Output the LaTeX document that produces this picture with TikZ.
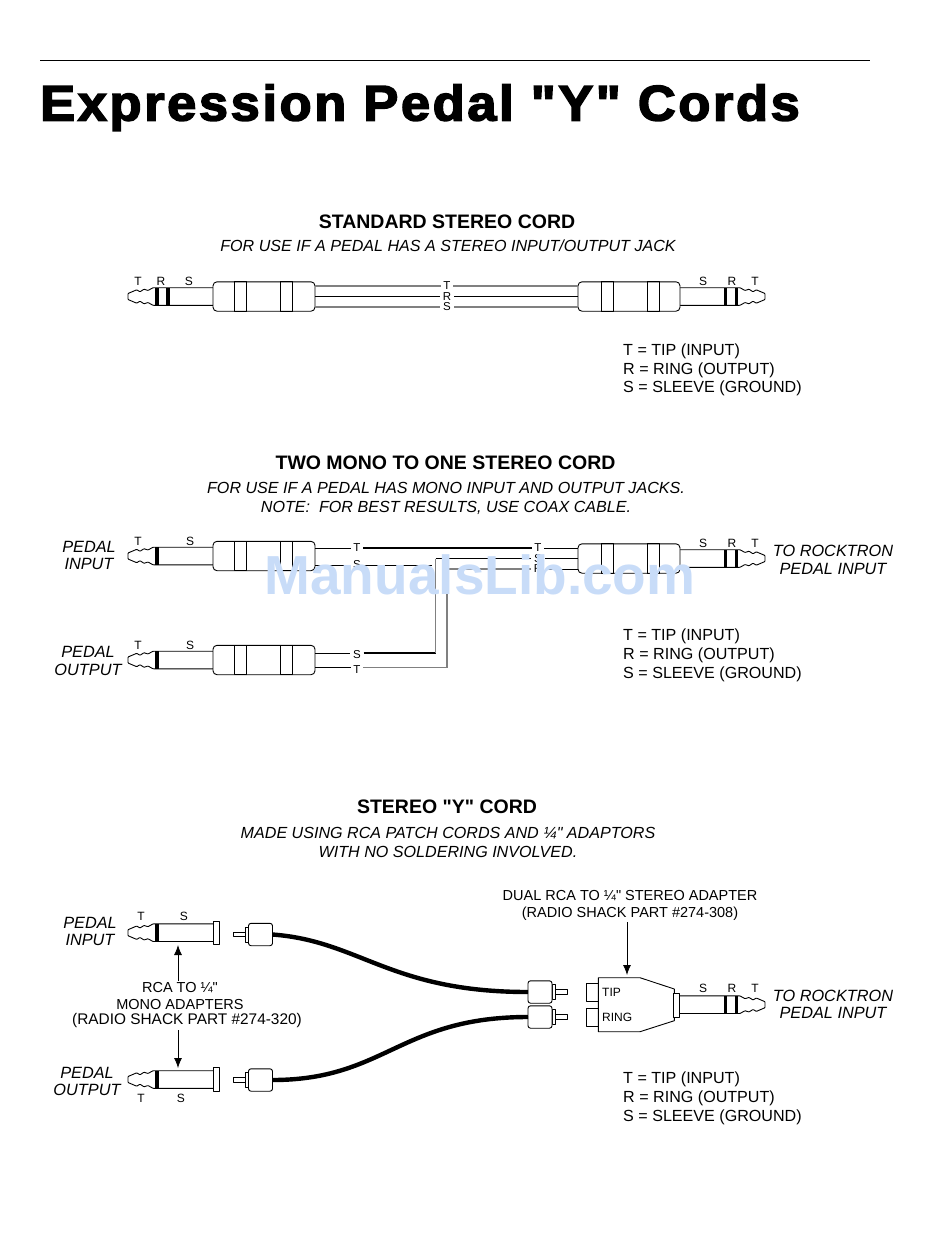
\documentclass[tikz,border=0pt]{standalone}
\usepackage{fontspec}
\usepackage{graphicx}
\setmainfont{Liberation Sans}[Ligatures=TeXOff]
\newfontfamily\titlefont[FakeBold=3,LetterSpace=5]{Liberation Sans Bold}
\usetikzlibrary{arrows.meta}

\definecolor{markblue}{RGB}{200,220,248}

\tikzset{
    plugline/.style={line width=0.9pt, line join=round},
    greywire/.style={line width=1.9pt, gray},
    blackwire/.style={line width=1.5pt, black},
    thinwire/.style={line width=0.9pt, black},
    rcacable/.style={line width=4.4pt, black},
    pointer/.style={line width=0.8pt, shorten <=2pt, -{Latex[length=10pt,width=8pt]}},
    pinlabel/.style={font=\fontsize{12}{12}\selectfont, inner sep=0pt},
    wirelabel/.style={pinlabel, font=\fontsize{11.5}{12}\selectfont, fill=white, inner xsep=2.5pt},
    headline/.style={font=\bfseries\fontsize{19.5}{20}\selectfont, inner sep=0pt},
    usage/.style={font=\itshape\fontsize{16.1}{19}\selectfont, align=center, inner sep=0pt},
    plugname/.style={font=\itshape\fontsize{16.3}{17.5}\selectfont, align=center, inner sep=0pt},
    legend/.style={font=\fontsize{16.1}{18.8}\selectfont, align=left, inner sep=0pt, anchor=north west},
    partnote/.style={font=\fontsize{14.5}{16.2}\selectfont, align=center, inner sep=0pt},
    pics/plugshaft/.style={code={
        \draw [plugline, fill=white, rounded corners=0.6pt] (85, -8.8) -- (25, -8.8) -- (20, -6) -- (16, -7.3) -- (12, -4.7) -- (8.7, -6.7) -- (0, -3) -- (0, 3) -- (8.7, 6.7) -- (12, 4.7) -- (16, 7.3) -- (20, 6) -- (25, 8.8) -- (85, 8.8);
        \fill (27, -8.8) rectangle (30.5, 8.8);
    }},
    pics/ringband/.style={code={
        \fill (38, -8.8) rectangle (41.5, 8.8);
    }},
    pics/barrel/.style={code={
        \draw [plugline, fill=white, rounded corners=4pt] (85, -14.7) rectangle (187, 14.7);
        \draw [plugline] (106, -14.7) rectangle (118, 14.7);
        \draw [plugline] (152, -14.7) rectangle (164, 14.7);
        \coordinate (-top) at (187, -10.5);
        \coordinate (-mid) at (187, 0);
        \coordinate (-low) at (187, 10.5);
    }},
    pics/adapterend/.style={code={
        \draw [plugline, fill=white] (85.5, -11.6) rectangle (91.3, 11.6);
    }},
    pics/rcaplug/.style={code={
        \draw [plugline, fill=white] (0, -2.2) rectangle (12, 2.2);
        \draw [plugline, fill=white] (12, -7.5) rectangle (15.5, 7.5);
        \draw [plugline, fill=white, rounded corners=2.5pt] (15.5, -11.2) rectangle (39.5, 11.2);
        \coordinate (-back) at (39.5, 0);
    }},
}

\begin{document}
\begin{tikzpicture}[x=1pt, y=-1pt]
    \useasboundingbox (0, 0) rectangle (950, 1254);
    \coordinate (rule-a) at (40, 60.5);
    \coordinate (rule-b) at (870, 60.5);
    \draw [line width=0.9pt] (rule-a) -- (rule-b);
    \node (title) [anchor=base west, inner sep=0pt, at={(40, 120.5)}, font=\titlefont\fontsize{50}{50}\selectfont] {\scalebox{1.048}[1]{Expression Pedal "Y" Cords}};

    \node (head-a) [headline, at={(447, 221.5)}] {STANDARD STEREO CORD};
    \node (use-a) [usage, at={(448, 245.5)}] {FOR USE IF A PEDAL HAS A STEREO INPUT/OUTPUT JACK};
    \pic at (128, 296.5) {plugshaft};
    \pic at (128, 296.5) {ringband};
    \pic (a-left) at (128, 296.5) {barrel};
    \pic [xscale=-1] at (765, 296.5) {plugshaft};
    \pic [xscale=-1] at (765, 296.5) {ringband};
    \pic (a-right) [xscale=-1] at (765, 296.5) {barrel};
    \node (a-t) [wirelabel, at={(447, 286)}] {T};
    \node (a-r) [wirelabel, at={(447, 296.5)}] {R};
    \node (a-s) [wirelabel, at={(447, 307)}] {S};
    \draw [greywire] (a-left-top) -- (a-t);
    \draw [blackwire] (a-left-mid) -- (a-r);
    \draw [greywire] (a-left-low) -- (a-s);
    \draw [greywire] (a-right-top) -- (a-t);
    \draw [blackwire] (a-right-mid) -- (a-r);
    \draw [greywire] (a-right-low) -- (a-s);
    \node (a-lt) [pinlabel, at={(138, 281)}] {T};
    \node (a-lr) [pinlabel, at={(161, 281)}] {R};
    \node (a-ls) [pinlabel, at={(189, 281)}] {S};
    \node (a-rs) [pinlabel, at={(703, 281)}] {S};
    \node (a-rr) [pinlabel, at={(732, 281)}] {R};
    \node (a-rt) [pinlabel, at={(755, 281)}] {T};
    \node (key-a) [legend, at={(623, 343.5)}] {T = TIP (INPUT)\\R = RING (OUTPUT)\\S = SLEEVE (GROUND)};

    \node (head-b) [headline, at={(445.5, 462.5)}] {TWO MONO TO ONE STEREO CORD};
    \node (use-b) [usage, at={(446, 498.5)}] {FOR USE IF A PEDAL HAS MONO INPUT AND OUTPUT JACKS.\\NOTE:\ \ FOR BEST RESULTS, USE COAX CABLE.};
    \node (name-b1) [plugname, at={(89, 555.5)}] {PEDAL\\INPUT};
    \node (name-b2) [plugname, at={(88, 661)}] {PEDAL\\OUTPUT};
    \node (name-b3) [plugname, at={(833, 560)}] {TO ROCKTRON\\PEDAL INPUT};
    \pic at (128, 556) {plugshaft};
    \pic (b-in) at (128, 556) {barrel};
    \pic at (128, 660) {plugshaft};
    \pic (b-out) at (128, 660) {barrel};
    \pic [xscale=-1] at (765, 558.5) {plugshaft};
    \pic [xscale=-1] at (765, 558.5) {ringband};
    \pic (b-st) [xscale=-1] at (765, 558.5) {barrel};
    \node (b-it) [wirelabel, at={(357, 548)}] {T};
    \node (b-is) [wirelabel, at={(357, 565)}] {S};
    \node (b-os) [wirelabel, at={(357, 655)}] {S};
    \node (b-ot) [wirelabel, at={(357, 670)}] {T};
    \node (b-st-t) [wirelabel, at={(538, 548)}] {T};
    \node (b-st-s) [wirelabel, at={(538, 558.5)}] {S};
    \node (b-st-r) [wirelabel, at={(538, 569)}] {R};
    \coordinate (b-in-top) at (315, 548);
    \coordinate (b-in-low) at (315, 565);
    \coordinate (b-out-top) at (315, 653);
    \coordinate (b-out-low) at (315, 667.7);
    \coordinate (b-join) at (435.7, 558.5);
    \coordinate (b-joinb) at (447, 569);
    \coordinate (b-ins) at (432, 565);
    \draw [thinwire] (b-in-top) -- (b-it);
    \draw [blackwire] (b-it) -- (b-st-t);
    \draw [thinwire] (b-st-top) -- (b-st-t);
    \draw [thinwire] (b-in-low) -- (b-is);
    \draw [thinwire] (b-is) -- (b-ins);
    \draw [thinwire] (b-out-top) -- (b-out-top -| b-os.west);
    \draw [blackwire] (b-os.east |- b-out-top) -- (b-join |- b-out-top);
    \draw [line width=1pt, gray] (b-join |- b-out-top) -- (b-join);
    \draw [thinwire] (b-join) -- (b-st-s);
    \draw [thinwire] (b-st-mid) -- (b-st-s);
    \draw [blackwire] (b-out-low) -- (b-out-low -| b-ot.west);
    \draw [greywire, line width=1.2pt] (b-ot.east |- b-out-low) -| (b-joinb) -- (b-st-r);
    \draw [thinwire] (b-st-low) -- (b-st-r);
    \node (b-lt) [pinlabel, at={(138, 541)}] {T};
    \node (b-ls) [pinlabel, at={(190, 541)}] {S};
    \node (b-ot2) [pinlabel, at={(138, 645)}] {T};
    \node (b-os2) [pinlabel, at={(190, 645)}] {S};
    \node (b-rs) [pinlabel, at={(703, 543)}] {S};
    \node (b-rr) [pinlabel, at={(732, 543)}] {R};
    \node (b-rt) [pinlabel, at={(755, 543)}] {T};
    \node (key-b) [legend, at={(623, 629)}] {T = TIP (INPUT)\\R = RING (OUTPUT)\\S = SLEEVE (GROUND)};

    \node (head-c) [headline, at={(447, 806.5)}] {STEREO "Y" CORD};
    \node (use-c) [usage, at={(448, 842)}] {MADE USING RCA PATCH CORDS AND ¼" ADAPTORS\\WITH NO SOLDERING INVOLVED.};
    \node (name-c1) [plugname, at={(90, 931.5)}] {PEDAL\\INPUT};
    \node (name-c2) [plugname, at={(87, 1081.5)}] {PEDAL\\OUTPUT};
    \node (name-c3) [plugname, at={(833, 1004.5)}] {TO ROCKTRON\\PEDAL INPUT};
    \pic at (128, 932.7) {plugshaft};
    \pic at (128, 932.7) {adapterend};
    \pic at (128, 1079.5) {plugshaft};
    \pic at (128, 1079.5) {adapterend};
    \pic (c-ra) at (233, 934.5) {rcaplug};
    \pic (c-rb) at (233, 1080) {rcaplug};
    \pic (c-rc) [xscale=-1] at (567.5, 992) {rcaplug};
    \pic (c-rd) [xscale=-1] at (567.5, 1017) {rcaplug};
    \draw [rcacable] (c-ra-back) .. controls (360, 941) and (390, 992) .. (c-rc-back);
    \draw [rcacable] (c-rb-back) .. controls (385, 1080) and (400, 1017) .. (c-rd-back);

    \draw [plugline, fill=white] (586, 983.3) rectangle (598.3, 1001.7);
    \draw [plugline, fill=white] (586, 1008.3) rectangle (598.3, 1026.7);
    \draw [plugline, fill=white] (598.3, 977.7) -- (640, 977.7) -- (674.3, 989) -- (674.3, 1020.7) -- (640, 1031.7) -- (598.3, 1031.7) -- cycle;
    \pic [xscale=-1] at (765, 1004.7) {plugshaft};
    \pic [xscale=-1] at (765, 1004.7) {ringband};
    \pic [xscale=-1] at (765, 1005.5) {adapterend};
    \node (c-tip) [pinlabel, anchor=west, at={(602, 992)}] {TIP};
    \node (c-ring) [pinlabel, anchor=west, at={(602, 1017)}] {RING};

    \node (c-lt) [pinlabel, at={(141, 916)}] {T};
    \node (c-ls) [pinlabel, at={(184, 916)}] {S};
    \node (c-ot) [pinlabel, at={(141, 1098)}] {T};
    \node (c-os) [pinlabel, at={(181, 1098)}] {S};
    \node (c-rs) [pinlabel, at={(703, 988)}] {S};
    \node (c-rr) [pinlabel, at={(732, 988)}] {R};
    \node (c-rt) [pinlabel, at={(755, 988)}] {T};

    \node (note-mono) [partnote, at={(180, 996)}] {RCA TO ¼"\\MONO ADAPTERS};
    \node (note-part) [partnote, font=\fontsize{15.4}{16.5}\selectfont, at={(187, 1021)}] {(RADIO SHACK PART \#274-320)};
    \node (note-dual) [partnote, at={(630, 905.5)}] {DUAL RCA TO ¼" STEREO ADAPTER\\(RADIO SHACK PART \#274-308)};
    \coordinate (tip-ina) at (178, 945);
    \coordinate (tip-ona) at (178, 1068);
    \coordinate (tip-dual) at (627, 975);
    \draw [pointer] (note-mono.north -| tip-ina) -- (tip-ina);
    \draw [pointer] (note-part.south -| tip-ona) -- (tip-ona);
    \draw [pointer] (note-dual.south -| tip-dual) -- (tip-dual);
    \node (key-c) [legend, at={(623, 1072)}] {T = TIP (INPUT)\\R = RING (OUTPUT)\\S = SLEEVE (GROUND)};

    \node (mark) [inner sep=0pt, text=markblue, at={(480, 575)}, font=\bfseries\fontsize{55}{55}\selectfont] {ManualsLib.com};
\end{tikzpicture}
\end{document}
